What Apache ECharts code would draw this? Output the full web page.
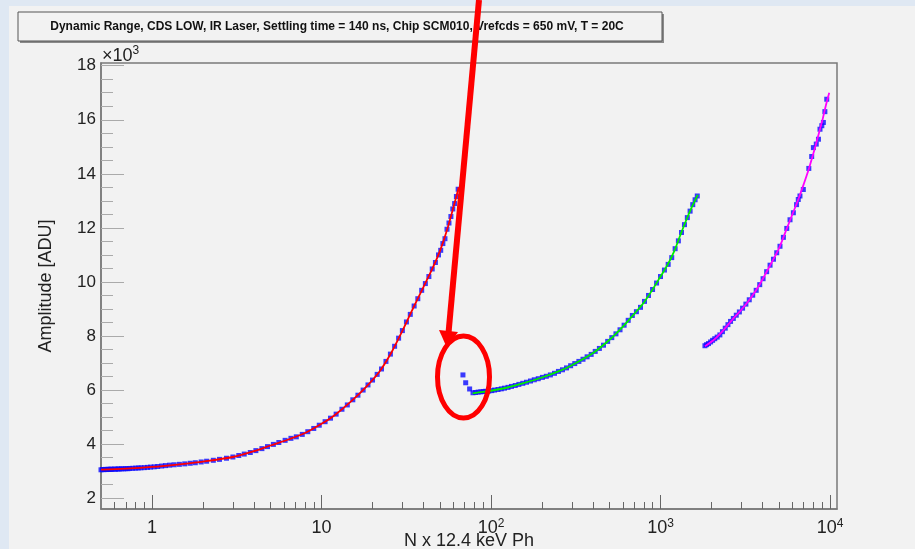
<!DOCTYPE html>
<html>
<head>
<meta charset="utf-8">
<title>Dynamic Range</title>
<script src="https://cdn.jsdelivr.net/npm/echarts@6/dist/echarts.min.js"></script>
<style>
  html, body { margin: 0; padding: 0; background: #f2f2f2; }
  #main { width: 915px; height: 549px; }
</style>
</head>
<body>
<div id="main"></div>
<script>
// measured points [N photons, amplitude ADU]
var redDots = [[0.50,3050],[0.51,3062],[0.52,3055],[0.53,3066],[0.54,3060],[0.55,3070],[0.56,3064],[0.57,3074],[0.58,3068],
  [0.60,3078],[0.61,3072],[0.63,3082],[0.64,3078],[0.66,3088],[0.68,3084],[0.70,3094],[0.72,3090],[0.74,3100],[0.77,3106],
  [0.80,3112],[0.83,3118],[0.86,3124],[0.90,3130],[0.94,3140],[0.98,3150],[1.03,3160],[1.08,3172],[1.14,3190],[1.20,3205],
  [1.27,3222],[1.35,3236],[1.45,3252],[1.56,3270],[1.68,3292],[1.80,3312],[1.95,3340],[2.10,3368],[2.30,3402],[2.50,3436],
  [2.75,3478],[3.00,3524],[3.25,3580],[3.50,3632],[3.80,3690],[4.10,3760],[4.45,3834],[4.80,3908],[5.20,3990],[5.60,4060],
  [6.10,4140],[6.60,4214],[7.10,4270],[7.70,4360],[8.30,4460],[9.00,4580],[9.70,4700],[10.5,4830],[11.3,4960],[12.2,5110],
  [13.2,5290],[14.2,5450],[15.3,5640],[16.4,5810],[17.6,6000],[18.8,6190],[20.0,6370],[21.3,6580],[22.6,6780],[24.0,7060],
  [25.5,7330],[27.0,7620],[28.5,7920],[30.0,8200],[31.7,8520],[33.4,8800],[35.2,9110],[37.0,9380],[39.0,9690],[41.0,9940],
  [43.0,10200],[45.0,10480],[47.0,10720],[49.0,11000],[50.5,11170],[52.0,11420],[53.5,11600],[55.0,11950],[56.5,12180],
  [58.0,12420],[59.5,12700],[61.0,12900],[62.5,13160],[64.0,13430]];
var redFit = [[0.5,3058],[0.7,3092],[1,3155],[1.5,3262],[2,3352],[3,3524],[4,3740],[5,3950],[6.5,4190],[8,4410],[10,4750],
  [12,5080],[15,5590],[18.4,6130],[22,6690],[26,7420],[30,8190],[35,9080],[40,9820],[45,10480],[50,11150],[55,11920],
  [60,12760],[64.5,13500]];

var greenDots = [[68.3,6560],[70.9,6270],[74.8,6040],[78.3,5900],[81,5910],[84,5925],[87,5935],[90,5945],[93,5955],[97,5965],
  [101,5980],[105,6000],[110,6020],[115,6045],[120,6070],[126,6100],[132,6135],[139,6170],[146,6210],[154,6250],[162,6290],
  [171,6335],[180,6380],[190,6420],[201,6470],[212,6510],[224,6560],[237,6620],[250,6690],[264,6750],[279,6820],[295,6900],
  [312,6980],[330,7060],[349,7140],[369,7230],[390,7320],[412,7430],[436,7540],[461,7660],[488,7800],[516,7940],[546,8080],
  [577,8230],[610,8400],[645,8580],[682,8760],[721,8900],[762,9060],[805,9280],[850,9500],[898,9720],[948,9960],[1000,10200],
  [1055,10440],[1110,10650],[1165,10900],[1220,11230],[1275,11520],[1330,11830],[1385,12120],[1440,12380],[1495,12620],
  [1550,12860],[1600,13040],[1648,13180]];
var greenFit = [[78,5880],[90,5935],[100,5975],[125,6095],[150,6230],[200,6465],[250,6690],[300,6920],[400,7370],[500,7860],
  [600,8350],[700,8820],[800,9250],[900,9730],[1000,10200],[1100,10630],[1200,11110],[1300,11680],[1400,12200],[1500,12650],
  [1600,13020],[1660,13220]];

var pinkDots = [[1829,7640],[1870,7680],[1920,7720],[1975,7780],[2030,7840],[2090,7900],[2160,7960],[2240,8040],[2320,8160],
  [2410,8290],[2500,8420],[2590,8540],[2690,8650],[2800,8770],[2920,8890],[3050,9030],[3190,9180],[3340,9340],[3500,9510],
  [3670,9690],[3850,9900],[4030,10120],[4230,10380],[4430,10620],[4640,10840],[4850,11080],[5070,11320],[5310,11650],
  [5560,11980],[5810,12300],[6080,12560],[6350,12860],[6500,13050],[6650,13180],[6960,13420],[7500,14200],[7800,14640],
  [7980,14970],[8300,15100],[8550,15280],[8730,15650],[8950,15780],[9140,15900],[9330,16300],[9570,16760]];
var pinkFit = [[1829,7620],[2100,7900],[2400,8280],[2700,8660],[3000,8970],[3400,9400],[3800,9850],[4200,10340],[4600,10800],
  [5000,11240],[5500,11900],[6000,12500],[6500,13050],[7000,13620],[7500,14180],[8000,14780],[8500,15380],[9000,15960],
  [9500,16580],[9900,17000]];

// axis ticks
var xMajorTicks = [1, 10, 100, 1000, 10000];
var xMinorTicks = [0.6, 0.7, 0.8, 0.9, 2, 3, 4, 5, 6, 7, 8, 9, 20, 30, 40, 50, 60, 70, 80, 90,
  200, 300, 400, 500, 600, 700, 800, 900, 2000, 3000, 4000, 5000, 6000, 7000, 8000, 9000];
var yMajorTicks = [2000, 4000, 6000, 8000, 10000, 12000, 14000, 16000, 18000];
var yMinorTicks = [2500, 3000, 3500, 4500, 5000, 5500, 6500, 7000, 7500, 8500, 9000, 9500, 10500, 11000, 11500,
  12500, 13000, 13500, 14500, 15000, 15500, 16500, 17000, 17500];

var FONT = 'Liberation Sans';
var myChart = echarts.init(document.getElementById('main'));

function dotSeries(data) {
    return {
        type: 'scatter',
        data: data,
        symbol: 'rect',
        symbolSize: 5,
        itemStyle: { color: '#0a0aff' },
        z: 2
    };
}
function fitSeries(data, color) {
    return {
        type: 'line',
        data: data,
        smooth: 0.3,
        showSymbol: false,
        lineStyle: { color: color, width: 1.8 },
        z: 3
    };
}

var option = {
    animation: false,
    backgroundColor: '#f2f2f2',
    grid: {
        left: 101, right: 78, top: 63, bottom: 40,
        show: true,
        borderColor: '#7a7a7a',
        borderWidth: 1.5,
        backgroundColor: 'transparent',
        outerBoundsMode: 'none'
    },
    xAxis: [{
        type: 'log',
        min: 0.5,
        max: 11000,
        position: 'bottom',
        name: 'N x 12.4 keV Ph',
        nameLocation: 'middle',
        nameGap: 23,
        nameMoveOverlap: false,
        nameTextStyle: { fontFamily: FONT, fontSize: 18, color: '#222', verticalAlign: 'top' },
        axisLine: { show: true, lineStyle: { color: '#7a7a7a', width: 1.5 } },
        axisTick: { inside: true, length: 14, customValues: xMajorTicks, lineStyle: { color: '#666' } },
        axisLabel: {
            customValues: xMajorTicks,
            margin: 9,
            formatter: function (v) {
                if (v < 5) return '{n|1}';
                if (v < 50) return '{n|10}';
                return '{n|10}{s|' + Math.round(Math.log10(v)) + '}';
            },
            rich: {
                n: { fontFamily: FONT, fontSize: 18, color: '#222', lineHeight: 20 },
                s: { fontFamily: FONT, fontSize: 12, color: '#222', verticalAlign: 'top', lineHeight: 20 }
            }
        },
        splitLine: { show: false }
    }, {
        type: 'log',
        min: 0.5,
        max: 11000,
        position: 'bottom',
        axisLine: { show: false },
        axisTick: { inside: true, length: 7, customValues: xMinorTicks, lineStyle: { color: '#666' } },
        axisLabel: { show: false },
        splitLine: { show: false }
    }],
    yAxis: [{
        type: 'value',
        min: 1600,
        max: 18100,
        position: 'left',
        name: 'Amplitude [ADU]',
        nameLocation: 'middle',
        nameGap: 46,
        nameMoveOverlap: false,
        nameTextStyle: { fontFamily: FONT, fontSize: 18, color: '#222' },
        axisLine: { show: true, lineStyle: { color: '#7a7a7a', width: 1.5 } },
        axisTick: { inside: true, length: 23, customValues: yMajorTicks, lineStyle: { color: '#aaa' } },
        axisLabel: {
            customValues: yMajorTicks,
            margin: 5,
            fontFamily: FONT,
            fontSize: 17,
            color: '#222',
            formatter: function (v) { return String(v / 1000); }
        },
        splitLine: { show: false }
    }, {
        type: 'value',
        min: 1600,
        max: 18100,
        position: 'left',
        axisLine: { show: false },
        axisTick: { inside: true, length: 12, customValues: yMinorTicks, lineStyle: { color: '#aaa' } },
        axisLabel: { show: false },
        splitLine: { show: false }
    }],
    series: [
        dotSeries(redDots), fitSeries(redFit, '#ff0000'),
        dotSeries(greenDots), fitSeries(greenFit, '#00ee00'),
        dotSeries(pinkDots), fitSeries(pinkFit, '#ff00ff')
    ],
    graphic: [
        // window strips
        { type: 'rect', shape: { x: 0, y: 0, width: 915, height: 6 }, style: { fill: '#dfe8f3' }, silent: true },
        { type: 'rect', shape: { x: 0, y: 0, width: 9, height: 549 }, style: { fill: '#dfe8f3' }, silent: true },
        // title box
        { type: 'rect', shape: { x: 20, y: 14, width: 644, height: 29 }, style: { fill: '#8a8a8a' }, silent: true },
        { type: 'rect', shape: { x: 18, y: 12, width: 644, height: 29 }, style: { fill: '#f2f2f2', stroke: '#555', lineWidth: 1 }, silent: true },
        {
            type: 'text', x: 337, y: 26.5, silent: true,
            style: {
                text: 'Dynamic Range, CDS LOW, IR Laser, Settling time = 140 ns, Chip SCM010, Vrefcds = 650 mV, T = 20C',
                fontFamily: FONT, fontSize: 12, fontWeight: 'bold', fill: '#111',
                align: 'center', verticalAlign: 'middle'
            }
        },
        {
            type: 'text', x: 102, y: 45, silent: true,
            style: {
                text: '{n|\u00d710}{s|3}',
                rich: {
                    n: { fontFamily: FONT, fontSize: 18, fill: '#222', lineHeight: 20, verticalAlign: 'bottom' },
                    s: { fontFamily: FONT, fontSize: 12, fill: '#222', lineHeight: 20, verticalAlign: 'top' }
                }
            }
        },
        // annotation arrow and circle
        { type: 'line', shape: { x1: 479, y1: 0, x2: 448.5, y2: 333 }, style: { stroke: '#ff0000', lineWidth: 6 }, z: 10, silent: true },
        { type: 'polygon', shape: { points: [[447, 348], [439, 330], [458, 332]] }, style: { fill: '#ff0000' }, z: 10, silent: true },
        { type: 'ellipse', shape: { cx: 463.5, cy: 377, rx: 26, ry: 41 }, style: { fill: 'none', stroke: '#ff0000', lineWidth: 5 }, z: 10, silent: true }
    ]
};

myChart.setOption(option);
</script>
</body>
</html>
